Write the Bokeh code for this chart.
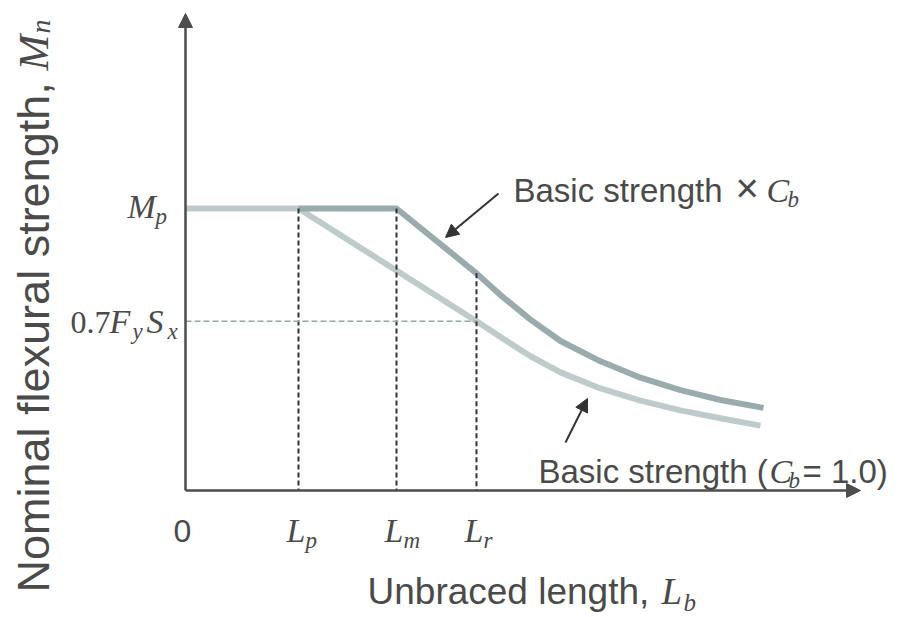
import math
from bokeh.plotting import figure
from bokeh.models import Range1d, Arrow, NormalHead
from bokeh.core.properties import value
from bokeh.embed import file_html
from bokeh.resources import INLINE

# ---------------- data ----------------
# unbraced length (arbitrary units) and nominal strength (Mp = 100)
Lp, Lm, Lr = 11.3, 21.1, 29.1
Mp, FySx07 = 100.0, 60.0

Lb_basic = [0.0, 11.3, 29.1, 31.5, 34.5, 37.5, 41.5, 45.5, 49.5, 53.5, 57.5]
Mn_basic = [100.0, 100.0, 60.0, 54.4, 47.6, 41.9, 36.2, 31.9, 28.4, 25.6, 23.0]

Lb_cb = [11.3, 21.1, 29.1, 31.5, 34.5, 37.5, 41.5, 45.5, 49.5, 53.5, 57.8]
Mn_cb = [100.0, 100.0, 77.0, 69.3, 60.6, 53.0, 45.8, 40.0, 35.6, 32.1, 29.3]

x_tick_vals = [Lp, Lm, Lr]
x_tick_main = ["L", "L", "L"]
x_tick_sub = ["p", "m", "r"]

# ---------------- layout helpers (screen px -> data) ----------------
def sx(px):
    return (px - 185) / 10.0

def sy(py):
    return (490 - py) / 2.82

def dx(d):  # data x -> screen px
    return 185 + d * 10.0

W, H = 904, 617
p = figure(width=W, height=H, x_range=Range1d(sx(0), sx(W)),
           y_range=Range1d(sy(H), sy(0)), output_backend="svg",
           toolbar_location=None, min_border=0)
p.axis.visible = False
p.grid.visible = False
p.outline_line_color = None
p.background_fill_color = "white"
p.border_fill_color = "white"

SANS = value("Liberation Sans")
SERIF = value("Liberation Serif")
TXT = "#4a4a4a"
AX = "#4d4d4d"

# curves
p.line(Lb_basic, Mn_basic, line_width=6, line_color="#bfcbcb", line_join="round")
p.line(Lb_cb, Mn_cb, line_width=6, line_color="#9aabad", line_join="round")

# reference dashed lines
p.segment(x0=[Lp, Lm], y0=[Mp, Mp], x1=[Lp, Lm], y1=[0, 0],
          line_color="#333333", line_width=2, line_dash="5 3")
p.segment(x0=[Lr], y0=[Mn_cb[2]], x1=[Lr], y1=[0],
          line_color="#333333", line_width=2, line_dash="5 3")
p.segment(x0=[0], y0=[FySx07], x1=[Lr], y1=[FySx07],
          line_color="#9aa3a3", line_width=1.5, line_dash="6 3")

# axes with arrow heads
p.add_layout(Arrow(end=NormalHead(size=14, fill_color=AX, line_color=AX),
                   x_start=0, y_start=0, x_end=0, y_end=sy(13),
                   line_color=AX, line_width=2.5))
p.add_layout(Arrow(end=NormalHead(size=14, fill_color=AX, line_color=AX),
                   x_start=0, y_start=0, x_end=sx(860), y_end=0,
                   line_color=AX, line_width=2.5))

# annotation arrows
p.add_layout(Arrow(end=NormalHead(size=13, fill_color="#333333", line_color="#333333"),
                   x_start=sx(498), y_start=sy(193), x_end=sx(445), y_end=sy(237),
                   line_color="#333333", line_width=2))
p.add_layout(Arrow(end=NormalHead(size=13, fill_color="#333333", line_color="#333333"),
                   x_start=sx(565), y_start=sy(442), x_end=sx(587), y_end=sy(398),
                   line_color="#333333", line_width=2))

def txt(x_px, y_px, s, font, size, style="normal", align="left", baseline="alphabetic",
        angle=0.0, color=TXT):
    # y_px is the wanted baseline in screen pixels; compensate renderer offset
    if baseline == "alphabetic":
        y_px = y_px - 0.38 * size
    p.text(x=[sx(x_px)], y=[sy(y_px)], text=[s], text_font=font,
           text_font_size=f"{size}px", text_font_style=style, text_align=align,
           text_baseline=baseline, angle=angle, text_color=color)

# x tick labels
txt(182, 543, "0", SANS, 32, align="center")
for v, m, s in zip(x_tick_vals, x_tick_main, x_tick_sub):
    px = dx(v)
    txt(px - 12, 543, m, SERIF, 34, style="italic")
    txt(px + 7, 549, s, SERIF, 23, style="italic")

# y tick labels
txt(127, 219, "M", SERIF, 34, style="italic")
txt(155, 225, "p", SERIF, 23, style="italic")
txt(110, 334, "0.7", SERIF, 32, align="right")
txt(109, 334, "F", SERIF, 34, style="italic")
txt(132, 340, "y", SERIF, 23, style="italic")
txt(146, 334, "S", SERIF, 34, style="italic")
txt(167, 340, "x", SERIF, 23, style="italic")

# axis titles
txt(367, 605, "Unbraced length,", SANS, 37)
txt(661, 605, "L", SERIF, 37, style="italic")
txt(683, 611, "b", SERIF, 25, style="italic")

txt(33, 592, "Nominal flexural strength,", SANS, 45,
    baseline="middle", angle=math.pi / 2)
txt(33, 70, "M", SERIF, 43, style="italic", baseline="middle", angle=math.pi / 2)
txt(40, 33, "n", SERIF, 28, style="italic", baseline="middle", angle=math.pi / 2)

# annotations
txt(513, 203, "Basic strength", SANS, 33)
txt(735, 203, "\u00d7", SANS, 40)
txt(766, 203, "C", SERIF, 34, style="italic")
txt(787, 208, "b", SERIF, 23, style="italic")

txt(538, 484, "Basic strength (", SANS, 33)
txt(769, 484, "C", SERIF, 34, style="italic")
txt(788, 489, "b", SERIF, 23, style="italic")
txt(802, 484, "= 1.0)", SANS, 33)

open("out.html", "w").write(file_html(p, INLINE))
